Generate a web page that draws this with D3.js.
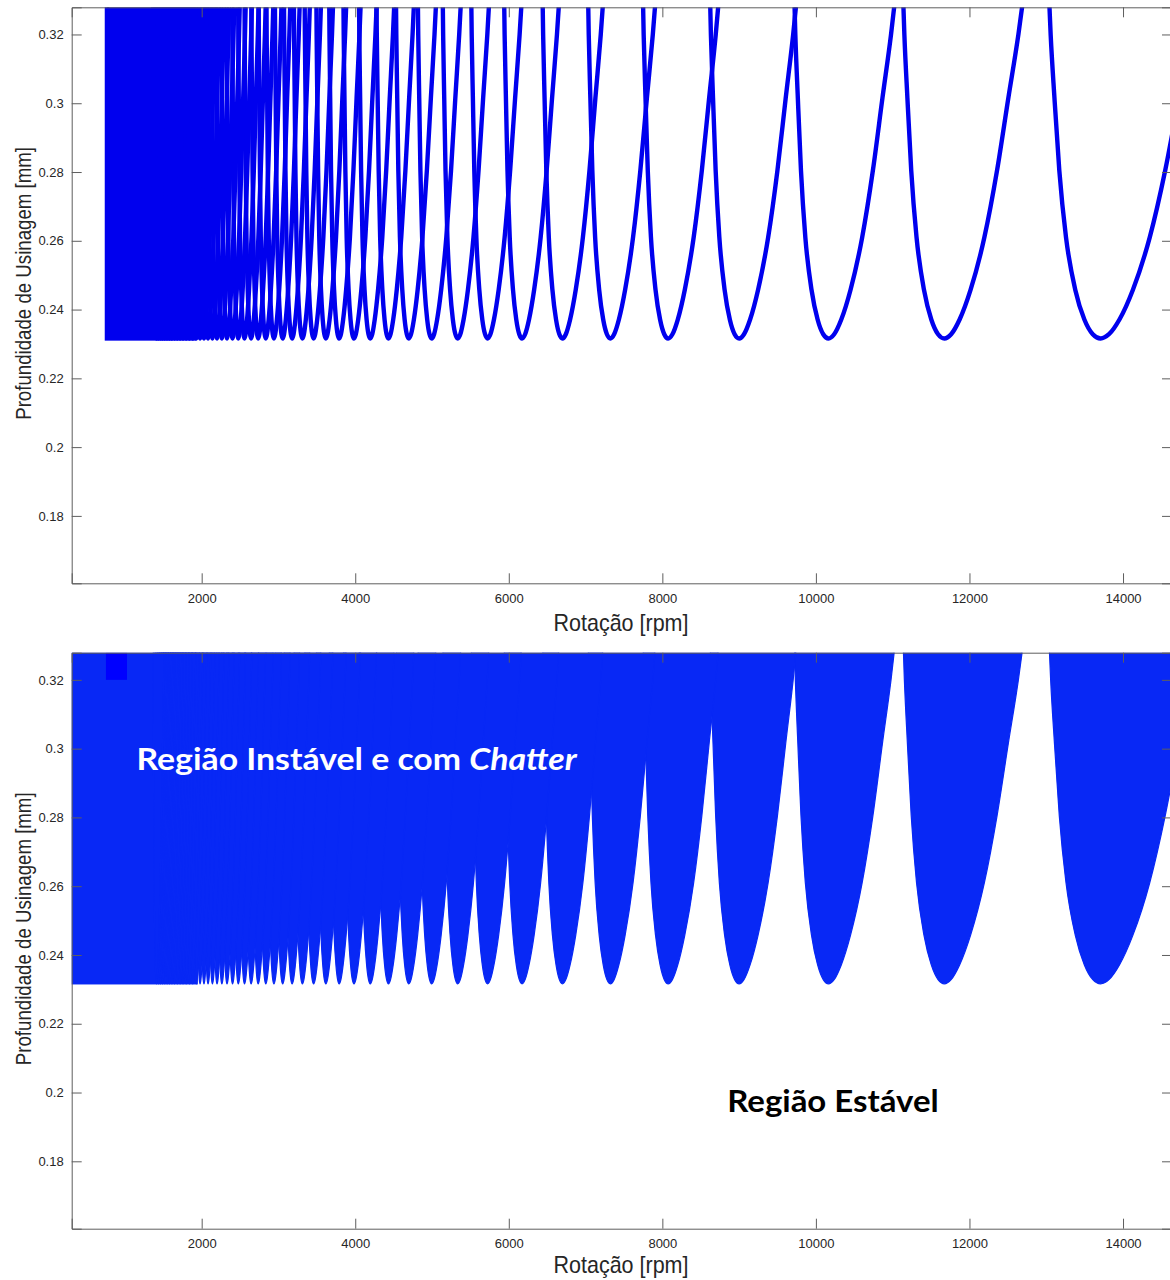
<!DOCTYPE html>
<html>
<head>
<meta charset="utf-8">
<script src="https://cdn.jsdelivr.net/npm/d3@7"></script>
<style>
  html, body { margin: 0; padding: 0; background: #ffffff; }
  svg { display: block; }
</style>
</head>
<body>
<svg id="chart" width="1170" height="1280"></svg>
<script>
// ================= DATA =================
// lobe index (harmonic number) of every visible stability lobe
const lobeNumber = [5, 6, 7, 8, 9, 10, 11, 12, 13, 14, 15, 16, 17, 18, 19, 20, 21, 22, 23, 24,
  25, 26, 27, 28, 29, 30, 31, 32, 33, 34, 35, 36, 37, 38, 39, 40, 41, 42, 43, 44,
  45, 46, 47, 48, 49, 50, 51, 52, 53, 54, 55];
// spindle speed [rpm] of the bottom (minimum) of each lobe
const lobeMinRpm = [13708, 11673, 10164, 9000, 8076, 7323, 6699, 6173, 5724, 5335, 4996, 4698,
  4433, 4196, 3984, 3791, 3617, 3458, 3312, 3178, 3055, 2941, 2835, 2736, 2644, 2558,
  2477, 2402, 2330, 2263, 2200, 2140, 2083, 2030, 1979, 1930, 1884, 1840, 1798, 1757,
  1719, 1682, 1647, 1613, 1581, 1550, 1520, 1491, 1463, 1436, 1411];
// lobe profile: depth of cut [mm] and, for the left and right branch,
// the chatter-frequency ratio and the phase fraction at that depth
const profileDepth   = [0.2316, 0.23283, 0.23711, 0.24578, 0.26101, 0.28046, 0.30151, 0.31993, 0.33682];
const leftFreqRatio  = [1, 0.995307, 0.990319, 0.984896, 0.979630, 0.976284, 0.974077, 0.972100, 0.971000];
const leftPhase      = [0.757583, 0.773539, 0.791171, 0.810633, 0.832038, 0.850635, 0.865462, 0.875752, 0.883681];
const rightFreqRatio = [1, 1.005189, 1.011978, 1.021223, 1.033141, 1.044196, 1.054243, 1.063600, 1.070900];
const rightPhase     = [0.757583, 0.741619, 0.723976, 0.704494, 0.683036, 0.664408, 0.649500, 0.639157, 0.631181];
// low-speed region where the lobes merge into a solid block [rpm]
const denseBlockTopPanel = [766, 1900];
const denseBlockBottomPanel = [307, 1950];
// small pure-blue patch at the top-left of the lower panel
const patchRpm = [753, 1027];
const patchDepth = [0.3200, 0.3279];
// axes
const xDomain = [307, 14638];
const yDomain = [0.1604, 0.3279];
const xTicks = [2000, 4000, 6000, 8000, 10000, 12000, 14000];
const yTicks = [0.18, 0.2, 0.22, 0.24, 0.26, 0.28, 0.3, 0.32];
const xLabel = "Rotação [rpm]";
const yLabel = "Profundidade de Usinagem [mm]";
const unstableText = "Região Instável e com ";
const unstableTextItalic = "Chatter";
const stableText = "Região Estável";

// ================= LAYOUT / STYLE =================
const axLeft = 71.7, axRight = 1172, axH = 576;
const panelTops = [7.3, 652.7];
const xLabelBaselines = [631, 1273];
const LINE_BLUE = "#0000ee";
const FILL_BLUE = "#0828f5";
const AXIS_COL = "#5e5e5e";
const TEXT_COL = "#262626";

const svg = d3.select("#chart");
const x = d3.scaleLinear().domain(xDomain).range([axLeft, axRight]);

function lobePoints(i) {
  const k = lobeNumber[i], m = lobeMinRpm[i], e0 = leftPhase[0];
  const pts = [];
  for (let j = profileDepth.length - 1; j > 0; j--) {
    pts.push([m * leftFreqRatio[j] * (k + e0) / (k + leftPhase[j]), profileDepth[j]]);
  }
  pts.push([m, profileDepth[0]]);
  for (let j = 1; j < profileDepth.length; j++) {
    pts.push([m * rightFreqRatio[j] * (k + e0) / (k + rightPhase[j]), profileDepth[j]]);
  }
  return pts;
}
const lobes = lobeNumber.map((k, i) => lobePoints(i));

function fitX(sel, tx, ty, target, extra) {
  const w = sel.node().getComputedTextLength();
  const sx = target / w;
  sel.attr("transform", `translate(${tx},${ty}) ${extra || ""} scale(${sx},1)`);
}

panelTops.forEach((top, pi) => {
  const y = d3.scaleLinear().domain(yDomain).range([top + axH, top]);
  const g = svg.append("g");
  const clipId = "clip" + pi;
  svg.append("clipPath").attr("id", clipId)
    .append("rect").attr("x", axLeft).attr("y", top)
    .attr("width", axRight - axLeft).attr("height", axH);
  const plot = g.append("g").attr("clip-path", `url(#${clipId})`);
  const line = d3.line().x(d => x(d[0])).y(d => y(d[1])).curve(d3.curveMonotoneX);

  if (pi === 0) {
    plot.append("rect")
      .attr("x", x(denseBlockTopPanel[0])).attr("y", y(yDomain[1]) - 5)
      .attr("width", x(denseBlockTopPanel[1]) - x(denseBlockTopPanel[0]))
      .attr("height", y(profileDepth[0]) - y(yDomain[1]) + 5)
      .attr("fill", LINE_BLUE).attr("stroke", LINE_BLUE).attr("stroke-width", 4.4);
    plot.selectAll("path.lobe").data(lobes).join("path")
      .attr("class", "lobe")
      .attr("d", line)
      .attr("fill", "none")
      .attr("stroke", LINE_BLUE)
      .attr("stroke-width", 4.4)
      .attr("stroke-linejoin", "round");
  } else {
    plot.append("rect")
      .attr("x", x(denseBlockBottomPanel[0]) - 2).attr("y", y(yDomain[1]) - 5)
      .attr("width", x(denseBlockBottomPanel[1]) - x(denseBlockBottomPanel[0]) + 2)
      .attr("height", y(profileDepth[0]) - y(yDomain[1]) + 5.6)
      .attr("fill", FILL_BLUE);
    plot.selectAll("path.lobefill").data(lobes).join("path")
      .attr("class", "lobefill")
      .attr("d", d => line(d) + "Z")
      .attr("fill", FILL_BLUE)
      .attr("stroke", FILL_BLUE)
      .attr("stroke-width", 1.2)
      .attr("stroke-linejoin", "round");
    plot.append("rect")
      .attr("x", x(patchRpm[0])).attr("y", y(patchDepth[1]))
      .attr("width", x(patchRpm[1]) - x(patchRpm[0]))
      .attr("height", y(patchDepth[0]) - y(patchDepth[1]))
      .attr("fill", "#0000ff");
  }

  // ---- axes (box with inward ticks) ----
  const axG = g.append("g").attr("font-family", "'Liberation Sans', Arial, sans-serif");
  const bottomAxis = axG.append("g").attr("transform", `translate(0,${top + axH})`)
    .call(d3.axisBottom(x).tickValues(xTicks).tickSize(-10).tickPadding(10).tickFormat(d3.format("d")));
  const topAxis = axG.append("g").attr("transform", `translate(0,${top})`)
    .call(d3.axisTop(x).tickValues(xTicks).tickSize(-10).tickFormat(""));
  const leftAxis = axG.append("g").attr("transform", `translate(${axLeft},0)`)
    .call(d3.axisLeft(y).tickValues(yTicks).tickSize(-10).tickPadding(8).tickFormat(d => String(+d.toFixed(2))));
  const rightAxis = axG.append("g").attr("transform", `translate(${axRight},0)`)
    .call(d3.axisRight(y).tickValues(yTicks).tickSize(-10).tickFormat(""));
  [bottomAxis, topAxis, leftAxis, rightAxis].forEach(a => {
    a.select(".domain").attr("stroke", AXIS_COL).attr("stroke-width", 1);
    a.selectAll(".tick line").attr("stroke", AXIS_COL).attr("stroke-width", 1);
    a.selectAll(".tick text").attr("fill", TEXT_COL).attr("font-size", 13);
  });

  // ---- axis labels ----
  const xl = g.append("text").text(xLabel)
    .attr("font-family", "'Liberation Sans', Arial, sans-serif")
    .attr("font-size", 24).attr("fill", TEXT_COL).attr("text-anchor", "middle");
  fitX(xl, 621, xLabelBaselines[pi], 135);
  const yl = g.append("text").text(yLabel)
    .attr("font-family", "'Liberation Sans', Arial, sans-serif")
    .attr("font-size", 22).attr("fill", TEXT_COL).attr("text-anchor", "middle");
  fitX(yl, 30.5, top + 276.1, 273, "rotate(-90)");
});

// ---- annotations on the lower panel ----
const t1 = svg.append("text")
  .attr("font-family", "Lato, 'Open Sans', sans-serif")
  .attr("font-weight", 700).attr("font-size", 31).attr("fill", "#ffffff");
t1.append("tspan").text(unstableText);
t1.append("tspan").attr("font-style", "italic").text(unstableTextItalic);
fitX(t1, 136.5, 769.5, 440.5);

const t2 = svg.append("text").text(stableText)
  .attr("font-family", "Lato, 'Open Sans', sans-serif")
  .attr("font-weight", 700).attr("font-size", 31).attr("fill", "#000000");
fitX(t2, 727.2, 1111.7, 211.6);
</script>
</body>
</html>
